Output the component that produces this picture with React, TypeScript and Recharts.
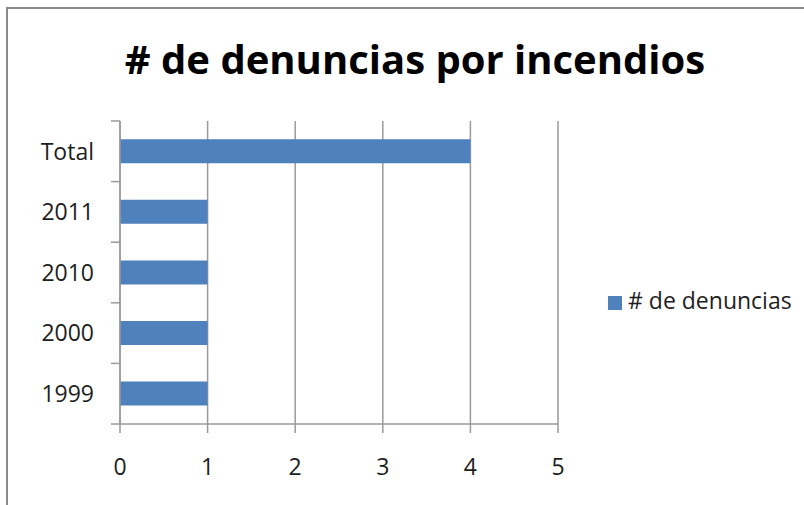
import { Bar, BarChart, CartesianGrid, Legend, XAxis, YAxis } from "recharts";

const categories = ["Total", "2011", "2010", "2000", "1999"];
const denuncias = [4, 1, 1, 1, 1];
const xTicks = [0, 1, 2, 3, 4, 5];

const data = categories.map((name, i) => ({ name, denuncias: denuncias[i] }));

const FONT = '"Open Sans", sans-serif';
const TEXT = "#1e1e1e";
const GRID = "#9a9a9a";
const BAR = "#4f81bd";
const TICK_SIZE = 9;
const Y_TICK_MARGIN = 17;

// category ticks sit on the band edges, labels in the band middle
function CategoryTick(props: any) {
  const { x, y, payload, index, visibleTicksCount } = props;
  const axisX = x + TICK_SIZE + Y_TICK_MARGIN;
  const half = payload?.offset ?? 30;
  const isLast = index === visibleTicksCount - 1;
  return (
    <g>
      <line x1={axisX - TICK_SIZE} x2={axisX} y1={y - half} y2={y - half} stroke={GRID} strokeWidth={1.5} />
      {isLast && (
        <line x1={axisX - TICK_SIZE} x2={axisX} y1={y + half} y2={y + half} stroke={GRID} strokeWidth={1.5} />
      )}
      <text x={x} y={y} dy="0.36em" textAnchor="end" fill={TEXT} fontSize={23} fontFamily={FONT}>
        {payload.value}
      </text>
    </g>
  );
}

export default function App() {
  return (
    <div style={{ position: "absolute", left: 0, top: 0, width: 804, height: 505, background: "#fff", overflow: "hidden" }}>
      <div
        style={{
          position: "absolute",
          left: 6,
          top: 7,
          width: 820,
          height: 520,
          borderTop: "2px solid #8a8a8a",
          borderLeft: "2px solid #8a8a8a",
        }}
      />
      <div
        style={{
          position: "absolute",
          left: 0,
          top: 39,
          width: 830,
          textAlign: "center",
          fontFamily: FONT,
          fontWeight: 700,
          fontSize: 40,
          lineHeight: "40px",
          color: "#000",
        }}
      >
        # de denuncias por incendios
      </div>
      <BarChart
        width={804}
        height={505}
        data={data}
        layout="vertical"
        margin={{ top: 121, right: 246, bottom: 21, left: 10 }}
        barCategoryGap="30%"
        style={{ position: "absolute", left: 0, top: 0 }}
      >
        <CartesianGrid horizontal={false} stroke={GRID} strokeWidth={1.5} />
        <XAxis
          type="number"
          domain={[0, 5]}
          ticks={xTicks}
          height={60}
          tickSize={TICK_SIZE}
          tickMargin={26}
          axisLine={{ stroke: GRID, strokeWidth: 1.5 }}
          tickLine={{ stroke: GRID, strokeWidth: 1.5 }}
          tick={{ fill: TEXT, fontSize: 23, fontFamily: FONT }}
        />
        <YAxis
          type="category"
          dataKey="name"
          width={110}
          tickSize={TICK_SIZE}
          tickMargin={Y_TICK_MARGIN}
          tickLine={false}
          axisLine={{ stroke: GRID, strokeWidth: 1.5 }}
          tick={<CategoryTick />}
          interval={0}
        />
        <Legend
          align="center"
          verticalAlign="middle"
          iconType="square"
          iconSize={14}
          formatter={(value: string) => <span style={{ color: TEXT, marginLeft: 2 }}>{value}</span>}
          wrapperStyle={{ left: 608, top: 284, width: "auto", fontFamily: FONT, fontSize: 23 }}
        />
        <Bar dataKey="denuncias" name="# de denuncias" fill={BAR} isAnimationActive={false} />
      </BarChart>
    </div>
  );
}
